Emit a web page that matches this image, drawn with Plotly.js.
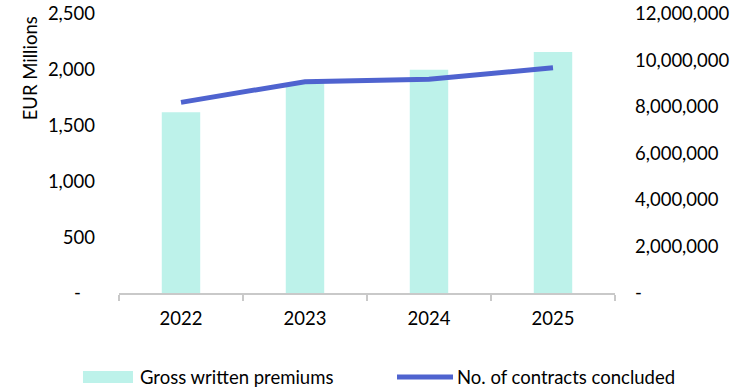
<!DOCTYPE html>
<html>
<head>
<meta charset="utf-8">
<script src="https://cdn.plot.ly/plotly-3.0.1.min.js"></script>
<style>html,body{margin:0;padding:0;background:#fff;}#chart{width:738px;height:390px;}</style>
</head>
<body>
<div id="chart"></div>
<script>
const years = ['2022', '2023', '2024', '2025'];
const grossWrittenPremiums = [1620, 1880, 2000, 2160];
const contractsConcluded = [8200000, 9090000, 9190000, 9690000];
const leftTicks = [0, 500, 1000, 1500, 2000, 2500];
const leftTickText = ['-\u00a0\u00a0\u00a0', '500', '1,000', '1,500', '2,000', '2,500'];
const rightTicks = [0, 2000000, 4000000, 6000000, 8000000, 10000000, 12000000];
const rightTickText = ['-', '2,000,000', '4,000,000', '6,000,000', '8,000,000', '10,000,000', '12,000,000'];
const seriesNames = ['Gross written premiums', 'No. of contracts concluded'];
const yTitle = 'EUR Millions';

const barColor = '#BDF2EA';
const lineColor = '#4F63CF';
const font = {family: 'Lato, "Open Sans", sans-serif', size: 18.5, color: '#000'};

const traces = [
  {type: 'bar', x: years, y: grossWrittenPremiums, name: seriesNames[0],
   marker: {color: barColor}, width: 0.31, yaxis: 'y'},
  {type: 'scatter', mode: 'lines', x: years, y: contractsConcluded, name: seriesNames[1],
   line: {color: lineColor, width: 5}, yaxis: 'y2'}
];

const layout = {
  width: 738, height: 390,
  margin: {l: 119, r: 123, t: 14, b: 97},
  paper_bgcolor: '#fff', plot_bgcolor: '#fff',
  font: font,
  showlegend: false,
  xaxis: {type: 'category', showline: true, linecolor: '#C9C9C9', linewidth: 1.5,
          ticks: 'outside', tickson: 'boundaries', ticklen: 6, tickcolor: '#C9C9C9', tickwidth: 1.5,
          showgrid: false, zeroline: false, ticklabelstandoff: 8},
  yaxis: {range: [0, 2500], tickvals: leftTicks, ticktext: leftTickText, showgrid: false,
          zeroline: false, showline: false, ticklabelstandoff: 23},
  yaxis2: {range: [0, 12000000], tickvals: rightTicks, ticktext: rightTickText, overlaying: 'y',
           side: 'right', showgrid: false, zeroline: false, showline: false, ticklabelstandoff: 19},
  shapes: [
    {type: 'rect', xref: 'paper', yref: 'paper', x0: -0.0726, x1: 0.0282, y0: -0.3226, y1: -0.2796,
     fillcolor: barColor, line: {width: 0}},
    {type: 'line', xref: 'paper', yref: 'paper', x0: 0.5605, x1: 0.6734, y0: -0.3011, y1: -0.3011,
     line: {color: lineColor, width: 5}}
  ],
  annotations: [
    {xref: 'paper', yref: 'paper', x: -0.179, y: 0.806, text: yTitle, textangle: -90,
     showarrow: false, font: font, xanchor: 'center', yanchor: 'middle'},
    {xref: 'paper', yref: 'paper', x: 0.0383, y: -0.3011, text: seriesNames[0],
     showarrow: false, font: font, xanchor: 'left', yanchor: 'middle'},
    {xref: 'paper', yref: 'paper', x: 0.6774, y: -0.3011, text: seriesNames[1],
     showarrow: false, font: font, xanchor: 'left', yanchor: 'middle'}
  ]
};

Plotly.newPlot('chart', traces, layout, {displayModeBar: false, staticPlot: true});
</script>
</body>
</html>
